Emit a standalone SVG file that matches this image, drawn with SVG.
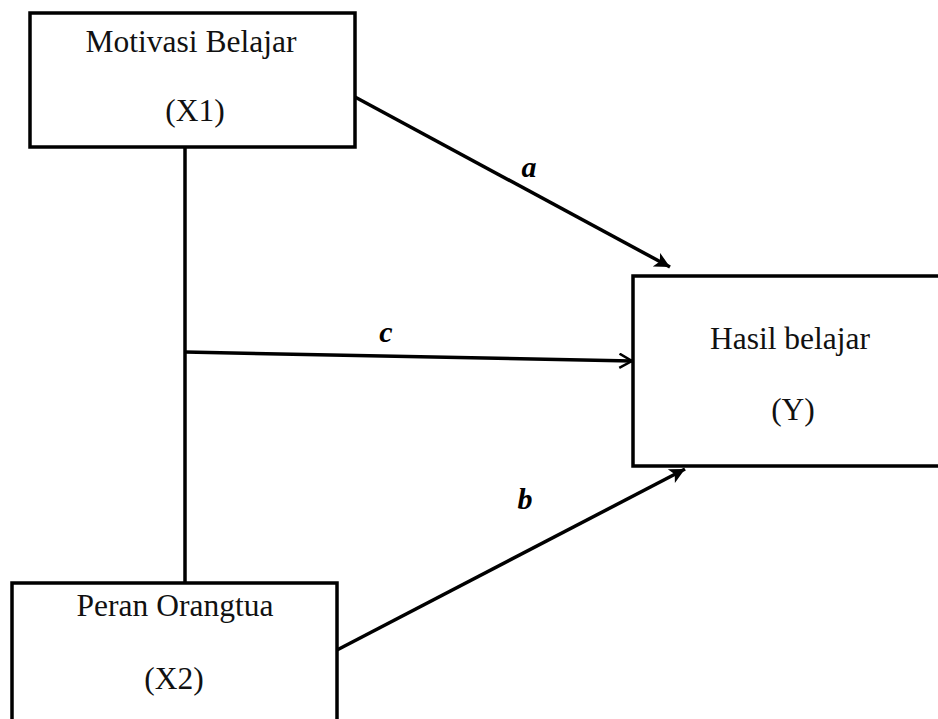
<svg xmlns="http://www.w3.org/2000/svg" width="938" height="719" viewBox="0 0 938 719">
<style>
.box{fill:#fff;stroke:#000;stroke-width:3.5}
.t{font-family:"Liberation Serif","Times New Roman",serif;font-size:31.5px;fill:#111;text-anchor:middle}
.lbl{font-family:"Liberation Serif","Times New Roman",serif;font-size:30px;font-style:italic;font-weight:bold;fill:#000;text-anchor:middle}
.ln{stroke:#000;stroke-width:3.5;fill:none}
</style>
<defs>
<marker id="fill" viewBox="0 0 10 10" refX="10" refY="5" markerWidth="5" markerHeight="4.4" markerUnits="strokeWidth" orient="auto">
<path d="M0,0 L10,5 L0,10 L2.5,5 Z" fill="#000"/>
</marker>
<marker id="open" viewBox="0 0 10 10" refX="9" refY="5" markerWidth="4.5" markerHeight="4.5" markerUnits="strokeWidth" orient="auto">
<path d="M1,0.5 L9,5 L1,9.5" fill="none" stroke="#000" stroke-width="1.6"/>
</marker>
</defs>
<rect width="938" height="719" fill="#fff"/>
<g id="connectors">
<line class="ln" x1="185" y1="147" x2="185" y2="583"/>
<line class="ln" x1="355" y1="97" x2="670" y2="267" marker-end="url(#fill)"/>
<line class="ln" x1="185" y1="352" x2="632" y2="361" marker-end="url(#open)"/>
<line class="ln" x1="337" y1="650" x2="685" y2="469" marker-end="url(#fill)"/>
<text class="lbl" x="529" y="177">a</text>
<text class="lbl" x="386" y="342">c</text>
<text class="lbl" x="525" y="509">b</text>
</g>
<g id="x1">
<rect class="box" x="30" y="13" width="325" height="134"/>
<text class="t" x="191" y="52">Motivasi Belajar</text>
<text class="t" x="195" y="121">(X1)</text>
</g>
<g id="y">
<rect class="box" x="633" y="276" width="320" height="190"/>
<text class="t" x="790" y="349">Hasil belajar</text>
<text class="t" x="793" y="420">(Y)</text>
</g>
<g id="x2">
<rect class="box" x="12" y="583" width="325" height="160"/>
<text class="t" x="175" y="616">Peran Orangtua</text>
<text class="t" x="174" y="689">(X2)</text>
</g>
</svg>
